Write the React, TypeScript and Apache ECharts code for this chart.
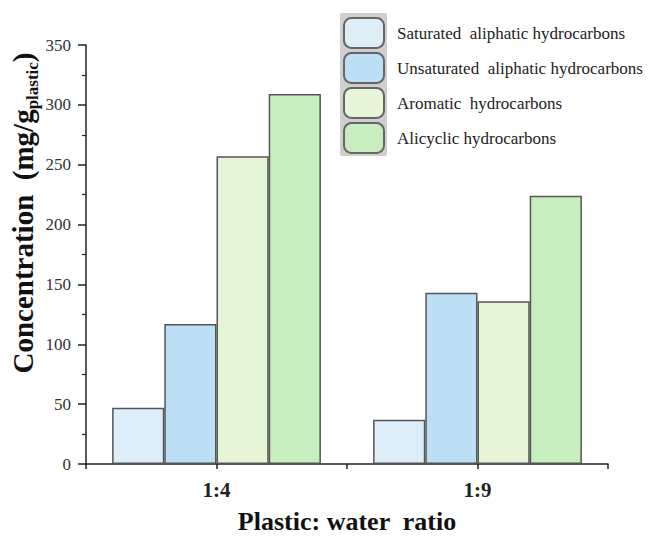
import React, { useEffect, useRef } from "react";
import * as echarts from "echarts";

const categories = ["1:4", "1:9"];
const seriesNames = [
  "Saturated  aliphatic hydrocarbons",
  "Unsaturated  aliphatic hydrocarbons",
  "Aromatic  hydrocarbons",
  "Alicyclic hydrocarbons",
];
const saturated = [47, 37];
const unsaturated = [117, 143];
const aromatic = [257, 136];
const alicyclic = [309, 224];
const yTicks = [0, 50, 100, 150, 200, 250, 300, 350];
const colors = ["#ddeef8", "#bddff6", "#e6f5d7", "#c6eebe"];

const FONT = "'Times New Roman', 'Liberation Serif', serif";

export default function App() {
  const ref = useRef<HTMLDivElement>(null);
  useEffect(() => {
    if (!ref.current) return;
    const chart = echarts.init(ref.current, null, { renderer: "svg" });
    const values = [saturated, unsaturated, aromatic, alicyclic];
    chart.setOption({
      animation: false,
      backgroundColor: "#ffffff",
      grid: { left: 86, right: 43, top: 45, bottom: 82, containLabel: false },
      legend: {
        orient: "vertical",
        left: 343,
        top: 17,
        padding: 0,
        itemWidth: 40,
        itemHeight: 30,
        itemGap: 3,
        icon: "roundRect",
        data: seriesNames,
        selectedMode: false,
        textStyle: { fontFamily: FONT, fontSize: 17, lineHeight: 20, color: "#222", padding: [0, 0, 0, 8] },
        itemStyle: { borderColor: "#666", borderWidth: 2 },
      },
      xAxis: [
        {
          type: "category",
          data: categories,
          boundaryGap: true,
          axisLine: { show: true, lineStyle: { color: "#222", width: 1.5 } },
          axisTick: { show: false },
          axisLabel: {
            fontFamily: FONT,
            fontSize: 21,
            fontWeight: "bold",
            color: "#222",
            margin: 15,
          },
          name: "Plastic: water  ratio",
          nameLocation: "middle",
          nameGap: 44,
          nameTextStyle: { fontFamily: FONT, fontSize: 26, fontWeight: "bold", color: "#111" },
        },
        {
          type: "category",
          data: ["a", "b", "c", "d"],
          boundaryGap: true,
          position: "bottom",
          axisLine: { show: false },
          axisTick: { show: true, interval: 0, length: 5, lineStyle: { color: "#222", width: 1.5 } },
          axisLabel: { show: false },
        },
      ],
      yAxis: {
        type: "value",
        min: 0,
        max: 350,
        interval: 50,
        axisLine: { show: true, lineStyle: { color: "#222", width: 1.5 } },
        axisTick: { show: true, length: 8, lineStyle: { color: "#222", width: 1.5 } },
        minorTick: { show: true, splitNumber: 2, length: 4, lineStyle: { color: "#222", width: 1.2 } },
        splitLine: { show: false },
        axisLabel: {
          fontFamily: FONT,
          fontSize: 17,
          color: "#333",
          margin: 15,
          formatter: (v: number) => (yTicks.includes(v) ? String(v) : ""),
        },
      },
      graphic: [
        {
          type: "rect",
          left: 340,
          top: 13,
          shape: { width: 47, height: 143, r: 2 },
          style: { fill: "#cfcfcf" },
          z: -1,
          silent: true,
        },
        {
          type: "text",
          x: 20,
          y: 213,
          rotation: Math.PI / 2,
          style: {
            text: "{a|Concentration  (mg/g}{b|plastic}{a|)}",
            align: "center",
            verticalAlign: "middle",
            rich: {
              a: { fontFamily: FONT, fontSize: 29, fontWeight: "bold", fill: "#111", lineHeight: 34, verticalAlign: "bottom" },
              b: { fontFamily: FONT, fontSize: 17, fontWeight: "bold", fill: "#111", lineHeight: 34, verticalAlign: "bottom", padding: [0, 0, -4, 0] },
            },
          },
        },
      ],
      series: values.map((arr, i) => ({
        name: seriesNames[i],
        type: "bar",
        xAxisIndex: 0,
        data: arr,
        barGap: "0%",
        barCategoryGap: "20%",
        itemStyle: { color: colors[i], borderColor: "#555", borderWidth: 1.5 },
      })),
    });
    return () => chart.dispose();
  }, []);
  return <div ref={ref} style={{ width: 651, height: 546, margin: -8 }} />;
}
